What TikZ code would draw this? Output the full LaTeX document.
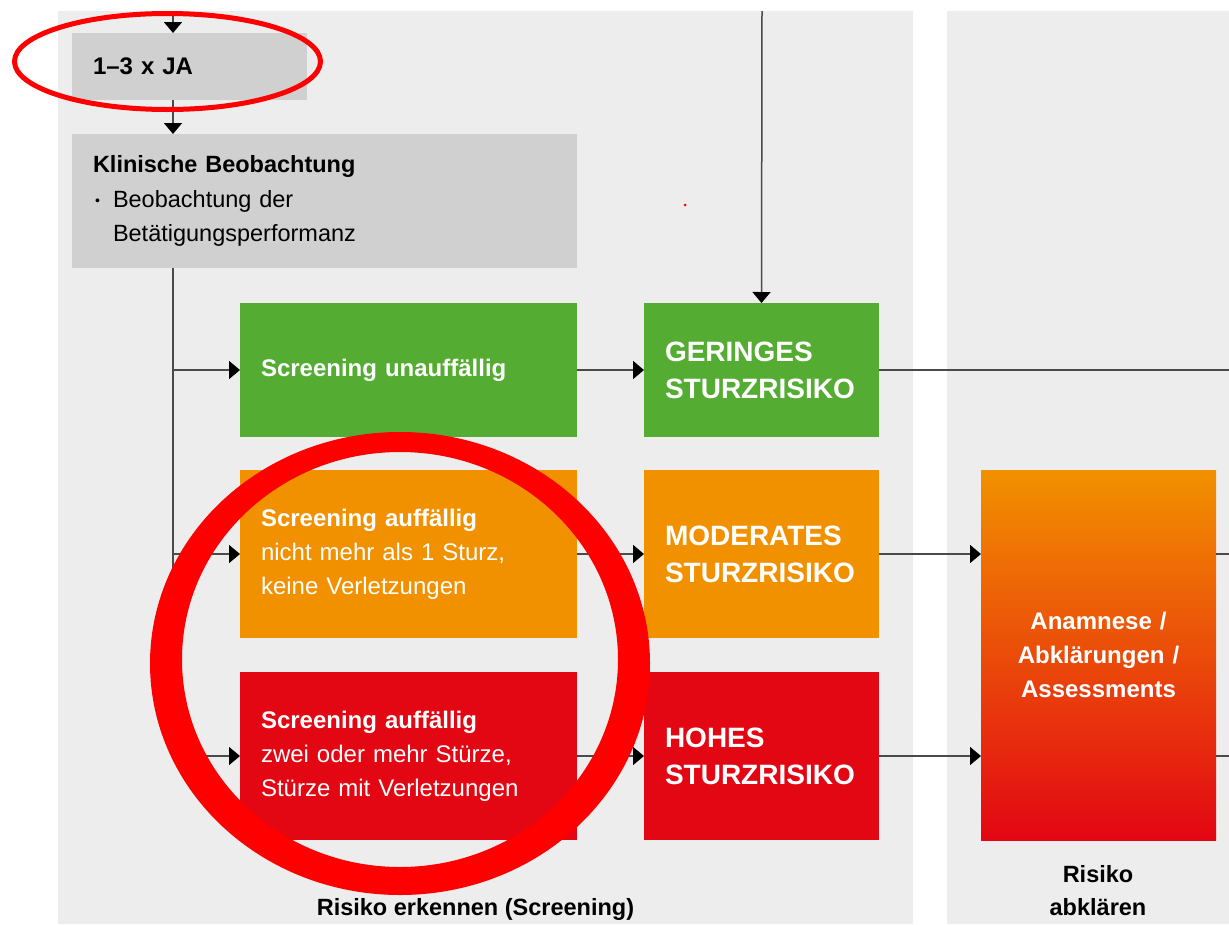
\documentclass[tikz,border=0pt]{standalone}
\usepackage{fontspec}
\setmainfont{Liberation Sans}
\usetikzlibrary{arrows.meta}
\definecolor{panel}{HTML}{EDEDED}
\definecolor{boxgray}{HTML}{D0D0D0}
\definecolor{sgreen}{HTML}{54AD32}
\definecolor{sorange}{HTML}{F29100}
\definecolor{sred}{HTML}{E30613}
\definecolor{linec}{HTML}{4A4A4A}
\definecolor{markred}{HTML}{FF0000}
\begin{document}
\begin{tikzpicture}[x=1pt,y=-1pt,
  box/.style={rectangle, draw=none, anchor=north west, inner xsep=21pt, inner ysep=0pt,
    outer sep=0pt, align=left, font=\fontsize{24}{34}\selectfont},
  wbox/.style={box, text=white},
  bigtxt/.style={font=\fontsize{28}{37}\selectfont\bfseries},
  conn/.style={draw=linec, line width=1.5pt},
  arr/.style={conn, -{Triangle[length=11pt,width=18pt,color=black]}},
  lab/.style={font=\fontsize{23.5}{33}\selectfont\bfseries, align=center, inner sep=0pt}
]
\useasboundingbox (0,0) rectangle (1229,924);
\fill[white] (0,0) rectangle (1229,924);
% panels
\fill[panel] (58,11) rectangle (913,924);
\fill[panel] (947,11) rectangle (1229,924);

% boxes
\node[box, fill=boxgray, minimum width=235pt, minimum height=67pt, text width=193pt] (ja) at (72,33) {\textbf{1–3 x JA}};
\node[box, font=\fontsize{23.5}{34.5}\selectfont, fill=boxgray, minimum width=505pt, minimum height=134pt, text width=463pt] (kb) at (72,134)
  {\textbf{Klinische Beobachtung}\\\makebox[20pt][l]{\hspace{2pt}\raisebox{2pt}{\scalebox{0.6}{\textbullet}}}Beobachtung der\\\hspace*{20pt}Betätigungsperformanz};

\node[wbox, fill=sgreen, minimum width=337pt, minimum height=134pt, text width=295pt] (sg) at (240,303) {\textbf{Screening unauffällig}};
\node[wbox, fill=sorange, minimum width=337pt, minimum height=168pt, text width=295pt] (so) at (240,470)
  {\textbf{Screening auffällig}\\nicht mehr als 1 Sturz,\\keine Verletzungen};
\node[wbox, fill=sred, minimum width=337pt, minimum height=168pt, text width=295pt] (sr) at (240,672)
  {\textbf{Screening auffällig}\\zwei oder mehr Stürze,\\Stürze mit Verletzungen};

\node[wbox, bigtxt, fill=sgreen, minimum width=235pt, minimum height=134pt, text width=193pt] (gs) at (644,303) {GERINGES\\STURZRISIKO};
\node[wbox, bigtxt, fill=sorange, minimum width=235pt, minimum height=168pt, text width=193pt] (ms) at (644,470) {MODERATES\\STURZRISIKO};
\node[wbox, bigtxt, fill=sred, minimum width=235pt, minimum height=168pt, text width=193pt] (hs) at (644,672) {HOHES\\STURZRISIKO};

\node[wbox, top color=sorange, bottom color=sred, align=center, minimum width=235pt, minimum height=370pt, text width=193pt] (ab) at (981,470)
  {\textbf{Anamnese /}\\\textbf{Abklärungen /}\\\textbf{Assessments}};

% labels
\node[lab] (l1) at (475.5,909) {Risiko erkennen (Screening)};
\node[lab] (l2) at (1098,891) {Risiko\\abklären};

% connectors
\coordinate (t1) at (173,11);
\coordinate (t2) at (762,11);
\coordinate (e) at (1229,0);
\draw[arr] (t1) -- (t1 |- ja.north);
\draw[arr] (ja.south -| t1) -- (kb.north -| t1);
\draw[conn] (kb.south -| t1) -- (t1 |- sr.west);
\draw[arr] (t1 |- sg.west) -- (sg.west);
\draw[arr] (t1 |- so.west) -- (so.west);
\draw[arr] (t1 |- sr.west) -- (sr.west);
\draw[arr] (t2) -- (gs.north);
\draw[arr] (sg.east) -- (gs.west);
\draw[arr] (so.east) -- (ms.west);
\draw[arr] (sr.east) -- (hs.west);
\draw[conn] (gs.east) -- (gs.east -| e);
\draw[arr] (ms.east) -- (ms.east -| ab.west);
\draw[arr] (hs.east) -- (hs.east -| ab.west);
\draw[conn] (ab.east |- ms.east) -- (e |- ms.east);
\draw[conn] (ab.east |- hs.east) -- (e |- hs.east);

% small red dot
\fill[markred] (685,205) circle[radius=1.5];

% red markings
\draw[markred, line width=5pt] (167.5,61.5) ellipse[x radius=153, y radius=48];
\fill[markred, even odd rule] (400,663.5) ellipse[x radius=250, y radius=231.5]
  (400,659.5) ellipse[x radius=218, y radius=207.5];
\end{tikzpicture}
\end{document}
